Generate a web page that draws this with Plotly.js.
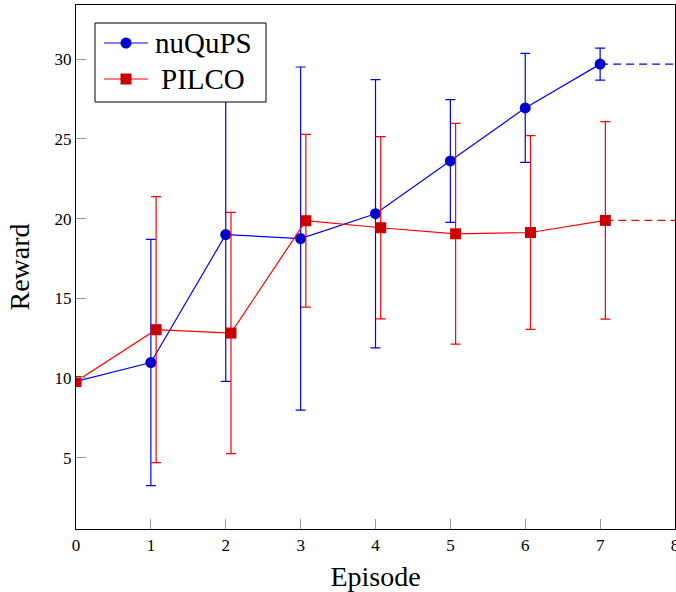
<!DOCTYPE html>
<html>
<head>
<meta charset="utf-8">
<script src="https://cdn.plot.ly/plotly-3.0.1.min.js"></script>
<style>
  html, body { margin: 0; padding: 0; background: #fff; }
  #chart { width: 676px; height: 592px; }
</style>
</head>
<body>
<div id="chart"></div>
<script>
// Episodes and mean reward per method, with symmetric error half-widths
const episodes = [0, 1, 2, 3, 4, 5, 6, 7];
const pilcoEpisodes = [0, 1.07, 2.07, 3.07, 4.07, 5.07, 6.07, 7.07];

const nuqupsReward = [9.78, 10.97, 19.0, 18.75, 20.31, 23.62, 26.95, 29.7];
const nuqupsError  = [0, 7.73, 9.22, 10.77, 8.42, 3.85, 3.42, 1.0];

const pilcoReward = [9.78, 13.03, 12.82, 19.87, 19.43, 19.05, 19.13, 19.89];
const pilcoError  = [0, 8.35, 7.57, 5.42, 5.72, 6.93, 6.08, 6.2];

const seriesNames = ['nuQuPS', 'PILCO'];

// Final values are carried on to the end of the axis as dashed lines
const lastEpisode = 8;

const blue = '#0000ff', blueMark = '#0000cc';
const red = '#ff0000', redMark = '#cc0000';
const serif = 'Liberation Serif, DejaVu Serif, serif';

const last = a => a[a.length - 1];

const traces = [
  {
    x: [last(episodes), lastEpisode], y: [last(nuqupsReward), last(nuqupsReward)],
    mode: 'lines', line: { color: blue, width: 1.2, dash: '8px,5px' },
    showlegend: false, hoverinfo: 'skip'
  },
  {
    x: [last(pilcoEpisodes), lastEpisode], y: [last(pilcoReward), last(pilcoReward)],
    mode: 'lines', line: { color: red, width: 1.2, dash: '8px,5px' },
    showlegend: false, hoverinfo: 'skip'
  },
  {
    name: seriesNames[0], x: episodes, y: nuqupsReward,
    mode: 'lines+markers',
    line: { color: blue, width: 1.2 },
    marker: { symbol: 'circle', size: 11, color: blueMark },
    error_y: { type: 'data', array: nuqupsError, visible: true, color: blue, thickness: 1.2, width: 5 }
  },
  {
    name: seriesNames[1], x: pilcoEpisodes, y: pilcoReward,
    mode: 'lines+markers',
    line: { color: red, width: 1.2 },
    marker: { symbol: 'square', size: 11, color: redMark },
    error_y: { type: 'data', array: pilcoError, visible: true, color: red, thickness: 1.2, width: 5 }
  }
];

// Legend box, drawn over the plot in pixel units of the plotting area
const W = 676, H = 592;
const M = { l: 76, r: 1, t: 5, b: 63 };
const px = v => (v - M.l) / (W - M.l - M.r);
const py = v => (H - M.b - v) / (H - M.t - M.b);

const legendBox = { left: 95, right: 266, top: 23, bottom: 102 };
const legendRows = [43, 79];
const sample = { x0: 104, x1: 148, mid: 126 };
const textCenter = 203;

const shapes = [
  {
    type: 'rect', xref: 'paper', yref: 'paper', layer: 'above',
    x0: px(legendBox.left), x1: px(legendBox.right),
    y0: py(legendBox.bottom), y1: py(legendBox.top),
    fillcolor: '#fff', line: { color: '#000', width: 1 }
  }
];
const legendStyles = [
  { line: blue, mark: blueMark, kind: 'circle' },
  { line: red, mark: redMark, kind: 'rect' }
];
legendStyles.forEach((s, i) => {
  const yy = py(legendRows[i]);
  shapes.push({
    type: 'line', xref: 'paper', yref: 'paper', layer: 'above',
    x0: px(sample.x0), x1: px(sample.x1), y0: yy, y1: yy,
    line: { color: s.line, width: 1.2 }
  });
  shapes.push({
    type: s.kind, xref: 'paper', yref: 'paper', layer: 'above',
    xsizemode: 'pixel', ysizemode: 'pixel',
    xanchor: px(sample.mid), yanchor: yy,
    x0: -5.5, x1: 5.5, y0: -5.5, y1: 5.5,
    fillcolor: s.mark, line: { width: 0 }
  });
});

const annotations = seriesNames.map((name, i) => ({
  text: name, xref: 'paper', yref: 'paper',
  x: px(textCenter), y: py(legendRows[i]),
  xanchor: 'center', yanchor: 'middle', showarrow: false,
  font: { family: serif, size: 29, color: '#000' }
}));

const layout = {
  width: W, height: H,
  margin: M,
  paper_bgcolor: '#fff', plot_bgcolor: '#fff',
  font: { family: serif, color: '#000' },
  showlegend: false,
  shapes: shapes,
  annotations: annotations,
  xaxis: {
    range: [0, 8], tickvals: [0, 1, 2, 3, 4, 5, 6, 7, 8],
    ticks: 'inside', ticklen: 10, tickcolor: '#999', tickwidth: 1,
    ticklabeloverflow: 'allow',
    showgrid: false, zeroline: false,
    showline: true, linecolor: '#000', linewidth: 1.2, mirror: true,
    tickfont: { family: serif, size: 17, color: '#000' },
    title: { text: 'Episode', font: { family: serif, size: 28, color: '#000' }, standoff: 12 }
  },
  yaxis: {
    range: [0.52, 33.41], tickvals: [5, 10, 15, 20, 25, 30],
    ticks: 'inside', ticklen: 10, tickcolor: '#999', tickwidth: 1,
    showgrid: false, zeroline: false,
    showline: true, linecolor: '#000', linewidth: 1.2, mirror: true,
    tickfont: { family: serif, size: 17, color: '#000' },
    title: { text: 'Reward', font: { family: serif, size: 28, color: '#000' }, standoff: 16 }
  }
};

Plotly.newPlot('chart', traces, layout, { displayModeBar: false, staticPlot: true });
</script>
</body>
</html>
